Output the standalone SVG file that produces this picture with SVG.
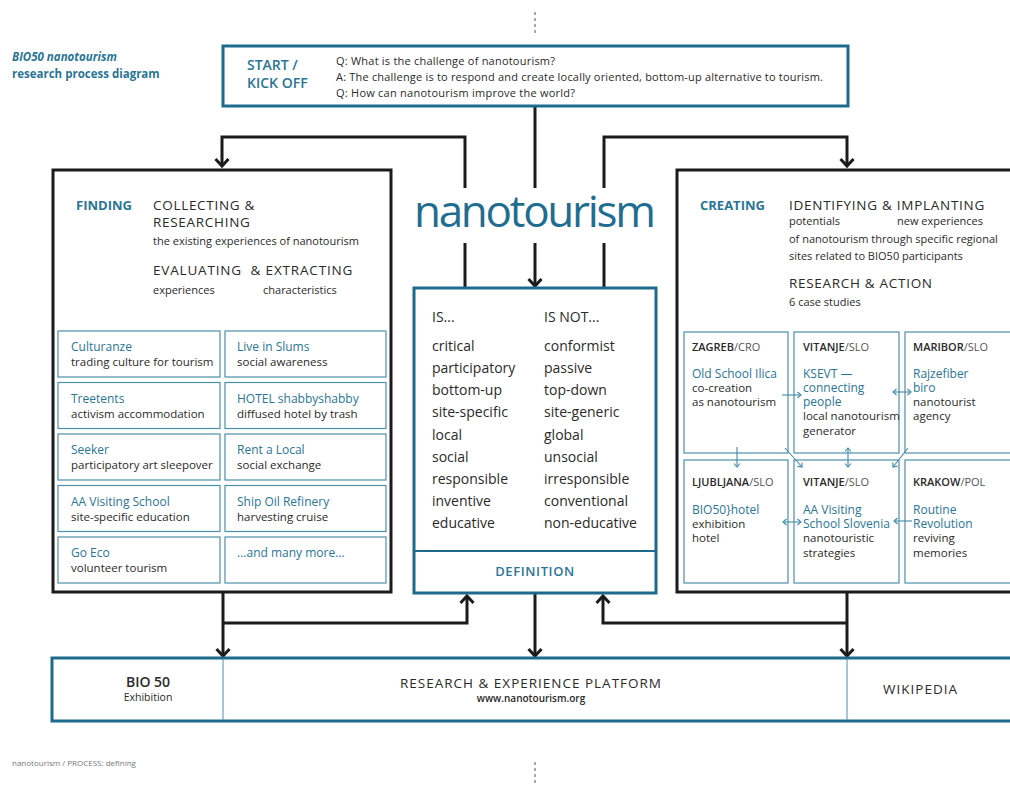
<svg xmlns="http://www.w3.org/2000/svg" width="1010" height="785" viewBox="0 0 1010 785">
<defs>
<style>
text{font-family:'Open Sans','Liberation Sans',sans-serif;fill:#2a2a2a;font-weight:500}
.teal{fill:#2a7595}
.b{font-weight:700}
.sb{font-weight:600}
.frame{fill:none;stroke:#1b1b1b;stroke-width:3}
.tframe{fill:#fff;stroke:#1d6a8c;stroke-width:3}
.cell{fill:#fff;stroke:#4d90aa;stroke-width:1.2}
.con{fill:none;stroke:#1b1b1b;stroke-width:3}
.sm{fill:none;stroke:#3f8aa6;stroke-width:1.1}
.dash{stroke:#555;stroke-width:1;stroke-dasharray:3 3}
.hd{font-size:13.5px;letter-spacing:0.7px}
.tx{font-size:11px}
.gt{font-size:12px}
.gs{font-size:11.5px}
.df{font-size:14px}
.rh{font-size:11px}
.rl{font-size:12px}
</style>
<marker id="arr" viewBox="-10 -8 12 16" refX="0" refY="0" markerWidth="12" markerHeight="16" markerUnits="userSpaceOnUse" orient="auto" overflow="visible">
<path d="M-7,-6.5 L0,0 L-7,6.5" fill="none" stroke="#1b1b1b" stroke-width="3"/>
</marker>
<marker id="sa" viewBox="-6 -5 8 10" refX="0" refY="0" markerWidth="8" markerHeight="10" markerUnits="userSpaceOnUse" orient="auto" overflow="visible">
<path d="M-3.5,-3 L0,0 L-3.5,3" fill="none" stroke="#3f8aa6" stroke-width="1.1"/>
</marker>
<marker id="sas" viewBox="-2 -5 8 10" refX="0" refY="0" markerWidth="8" markerHeight="10" markerUnits="userSpaceOnUse" orient="auto" overflow="visible">
<path d="M3.5,-3 L0,0 L3.5,3" fill="none" stroke="#3f8aa6" stroke-width="1.1"/>
</marker>
</defs>
<rect width="1010" height="785" fill="#fff"/>

<line class="dash" x1="535" y1="12" x2="535" y2="36"/>
<line class="dash" x1="535" y1="762" x2="535" y2="785"/>

<g id="title">
<text x="12" y="61" class="teal b" font-size="11.5" font-style="italic">BIO50 nanotourism</text>
<text x="12" y="78" class="teal b" font-size="11.5">research process diagram</text>
</g>

<g id="connectors">
<line class="con" x1="535" y1="107" x2="535" y2="188"/>
<line class="con" x1="535" y1="243" x2="535" y2="286" marker-end="url(#arr)"/>
<polyline class="con" points="465,188 465,137 222,137 222,166" marker-end="url(#arr)"/>
<polyline class="con" points="604,188 604,137 847,137 847,166" marker-end="url(#arr)"/>
<line class="con" x1="465" y1="243" x2="465" y2="288"/>
<line class="con" x1="604" y1="243" x2="604" y2="288"/>
<line class="con" x1="223" y1="592" x2="223" y2="656" marker-end="url(#arr)"/>
<polyline class="con" points="223,623 467,623 467,596" marker-end="url(#arr)"/>
<line class="con" x1="535" y1="593" x2="535" y2="656" marker-end="url(#arr)"/>
<line class="con" x1="847" y1="592" x2="847" y2="656" marker-end="url(#arr)"/>
<polyline class="con" points="847,623 603,623 603,596" marker-end="url(#arr)"/>
</g>

<g id="start">
<rect class="tframe" x="223" y="46" width="625" height="60"/>
<text x="247" y="70" class="teal sb" font-size="14">START /</text>
<text x="247" y="88" class="teal sb" font-size="14">KICK OFF</text>
<text x="336" y="65" font-size="11" textLength="219">Q: What is the challenge of nanotourism?</text>
<text x="336" y="81" font-size="11" textLength="487">A: The challenge is to respond and create locally oriented, bottom-up alternative to tourism.</text>
<text x="336" y="97" font-size="11" textLength="239">Q: How can nanotourism improve the world?</text>
</g>

<g id="finding">
<rect class="frame" x="53" y="170" width="338" height="422"/>
<text x="76" y="210" class="teal b" font-size="13">FINDING</text>
<text x="153" y="210" class="hd">COLLECTING &amp;</text>
<text x="153" y="227" class="hd">RESEARCHING</text>
<text x="153" y="245" class="tx">the existing experiences of nanotourism</text>
<text x="153" y="275" class="hd" textLength="200">EVALUATING&#160;&#160;&amp; EXTRACTING</text>
<text x="153" y="294" class="tx">experiences</text>
<text x="263" y="294" class="tx">characteristics</text>
</g>

<g id="finding-cases">
<rect class="cell" x="58" y="331" width="162" height="46"/>
<text x="71" y="351" class="teal gt">Culturanze</text>
<text x="71" y="366" class="gs">trading culture for tourism</text>
<rect class="cell" x="225" y="331" width="161" height="46"/>
<text x="237" y="351" class="teal gt">Live in Slums</text>
<text x="237" y="366" class="gs">social awareness</text>

<rect class="cell" x="58" y="382.5" width="162" height="46"/>
<text x="71" y="402.5" class="teal gt">Treetents</text>
<text x="71" y="417.5" class="gs">activism accommodation</text>
<rect class="cell" x="225" y="382.5" width="161" height="46"/>
<text x="237" y="402.5" class="teal gt">HOTEL shabbyshabby</text>
<text x="237" y="417.5" class="gs">diffused hotel by trash</text>

<rect class="cell" x="58" y="434" width="162" height="46"/>
<text x="71" y="454" class="teal gt">Seeker</text>
<text x="71" y="469" class="gs">participatory art sleepover</text>
<rect class="cell" x="225" y="434" width="161" height="46"/>
<text x="237" y="454" class="teal gt">Rent a Local</text>
<text x="237" y="469" class="gs">social exchange</text>

<rect class="cell" x="58" y="485.5" width="162" height="46"/>
<text x="71" y="505.5" class="teal gt">AA Visiting School</text>
<text x="71" y="520.5" class="gs">site-specific education</text>
<rect class="cell" x="225" y="485.5" width="161" height="46"/>
<text x="237" y="505.5" class="teal gt">Ship Oil Refinery</text>
<text x="237" y="520.5" class="gs">harvesting cruise</text>

<rect class="cell" x="58" y="537" width="162" height="46"/>
<text x="71" y="557" class="teal gt">Go Eco</text>
<text x="71" y="572" class="gs">volunteer tourism</text>
<rect class="cell" x="225" y="537" width="161" height="46"/>
<text x="237" y="557" class="teal gt">...and many more...</text>
</g>

<g id="nanotourism">
<text x="535" y="227" text-anchor="middle" font-size="44" style="fill:#1f6d90;font-weight:500" textLength="242">nanotourism</text>
</g>

<g id="definition">
<rect class="tframe" x="414" y="288" width="242" height="305"/>
<line x1="414" y1="551" x2="656" y2="551" stroke="#1d6a8c" stroke-width="2"/>
<text x="432" y="322" class="df">IS...</text>
<text x="544" y="322" class="df">IS NOT...</text>
<text x="432" y="351" class="df">critical</text>
<text x="432" y="373" class="df">participatory</text>
<text x="432" y="395" class="df">bottom-up</text>
<text x="432" y="417" class="df">site-specific</text>
<text x="432" y="440" class="df">local</text>
<text x="432" y="462" class="df">social</text>
<text x="432" y="484" class="df">responsible</text>
<text x="432" y="506" class="df">inventive</text>
<text x="432" y="528" class="df">educative</text>
<text x="544" y="351" class="df">conformist</text>
<text x="544" y="373" class="df">passive</text>
<text x="544" y="395" class="df">top-down</text>
<text x="544" y="417" class="df">site-generic</text>
<text x="544" y="440" class="df">global</text>
<text x="544" y="462" class="df">unsocial</text>
<text x="544" y="484" class="df">irresponsible</text>
<text x="544" y="506" class="df">conventional</text>
<text x="544" y="528" class="df">non-educative</text>
<text x="535" y="576" text-anchor="middle" class="teal sb" font-size="13" letter-spacing="0.6">DEFINITION</text>
</g>

<g id="creating">
<rect class="frame" x="677" y="170" width="400" height="422"/>
<text x="700" y="210" class="teal b" font-size="13">CREATING</text>
<text x="789" y="210" class="hd" textLength="196">IDENTIFYING &amp; IMPLANTING</text>
<text x="789" y="225" class="tx">potentials</text>
<text x="897" y="225" class="tx">new experiences</text>
<text x="789" y="243" class="tx">of nanotourism through specific regional</text>
<text x="789" y="260" class="tx">sites related to BIO50 participants</text>
<text x="789" y="288" class="hd">RESEARCH &amp; ACTION</text>
<text x="789" y="306" class="tx">6 case studies</text>
</g>

<g id="case-studies">
<rect class="cell" x="684" y="332" width="104" height="121"/>
<text x="692" y="351" class="rh"><tspan class="sb">ZAGREB</tspan><tspan style="fill:#555">/CRO</tspan></text>
<text x="692" y="378" class="teal rl">Old School Ilica</text>
<text x="692" y="392" class="gs">co-creation</text>
<text x="692" y="406" class="gs">as nanotourism</text>

<rect class="cell" x="794" y="332" width="105" height="121"/>
<text x="803" y="351" class="rh"><tspan class="sb">VITANJE</tspan><tspan style="fill:#555">/SLO</tspan></text>
<text x="803" y="378" class="teal rl">KSEVT —</text>
<text x="803" y="392" class="teal rl">connecting</text>
<text x="803" y="406" class="teal rl">people</text>
<text x="803" y="420" class="gs">local nanotourism</text>
<text x="803" y="435" class="gs">generator</text>

<rect class="cell" x="905" y="332" width="110" height="121"/>
<text x="913" y="351" class="rh"><tspan class="sb">MARIBOR</tspan><tspan style="fill:#555">/SLO</tspan></text>
<text x="913" y="378" class="teal rl">Rajzefiber</text>
<text x="913" y="392" class="teal rl">biro</text>
<text x="913" y="406" class="gs">nanotourist</text>
<text x="913" y="420" class="gs">agency</text>

<rect class="cell" x="684" y="460" width="104" height="123"/>
<text x="692" y="486" class="rh"><tspan class="sb">LJUBLJANA</tspan><tspan style="fill:#555">/SLO</tspan></text>
<text x="692" y="514" class="teal rl">BIO50}hotel</text>
<text x="692" y="528" class="gs">exhibition</text>
<text x="692" y="542" class="gs">hotel</text>

<rect class="cell" x="794" y="460" width="105" height="123"/>
<text x="803" y="486" class="rh"><tspan class="sb">VITANJE</tspan><tspan style="fill:#555">/SLO</tspan></text>
<text x="803" y="514" class="teal rl">AA Visiting</text>
<text x="803" y="528" class="teal rl">School Slovenia</text>
<text x="803" y="542" class="gs">nanotouristic</text>
<text x="803" y="557" class="gs">strategies</text>

<rect class="cell" x="905" y="460" width="110" height="123"/>
<text x="913" y="486" class="rh"><tspan class="sb">KRAKOW</tspan><tspan style="fill:#555">/POL</tspan></text>
<text x="913" y="514" class="teal rl">Routine</text>
<text x="913" y="528" class="teal rl">Revolution</text>
<text x="913" y="542" class="gs">reviving</text>
<text x="913" y="557" class="gs">memories</text>
</g>

<g id="case-links">
<line class="sm" x1="782" y1="395" x2="801" y2="395" marker-end="url(#sa)"/>
<line class="sm" x1="893" y1="392" x2="911" y2="392" marker-start="url(#sas)" marker-end="url(#sa)"/>
<line class="sm" x1="737" y1="447" x2="737" y2="467" marker-end="url(#sa)"/>
<line class="sm" x1="785" y1="448" x2="802" y2="467" marker-end="url(#sa)"/>
<line class="sm" x1="848" y1="448" x2="848" y2="467" marker-start="url(#sas)" marker-end="url(#sa)"/>
<line class="sm" x1="908" y1="448" x2="893" y2="467" marker-end="url(#sa)"/>
<line class="sm" x1="783" y1="522" x2="801" y2="522" marker-start="url(#sas)" marker-end="url(#sa)"/>
<line class="sm" x1="912" y1="521" x2="894" y2="521" marker-end="url(#sa)"/>
</g>

<g id="platform">
<rect x="52" y="658" width="1000" height="63" fill="#fff"/>
<path d="M1012,658 L52,658 L52,721 L1012,721" fill="none" stroke="#1d6a8c" stroke-width="3"/>
<line x1="223" y1="659" x2="223" y2="720" stroke="#4d90aa" stroke-width="1"/>
<line x1="847" y1="659" x2="847" y2="720" stroke="#4d90aa" stroke-width="1"/>
<text x="148" y="687" text-anchor="middle" class="sb" font-size="14">BIO 50</text>
<text x="148" y="701" text-anchor="middle" font-size="10.5">Exhibition</text>
<text x="531" y="688" text-anchor="middle" font-size="13.5" letter-spacing="1" textLength="262">RESEARCH &amp; EXPERIENCE PLATFORM</text>
<text x="531" y="702" text-anchor="middle" class="sb" font-size="10">www.nanotourism.org</text>
<text x="883" y="694" font-size="13.5" letter-spacing="1">WIKIPEDIA</text>
</g>

<g id="footer">
<text x="12" y="766" font-size="8" style="fill:#777;font-weight:400">nanotourism / PROCESS: defining</text>
</g>
</svg>
